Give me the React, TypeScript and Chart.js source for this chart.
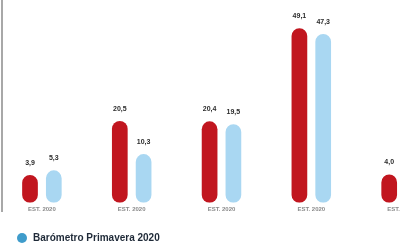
import { useEffect, useRef } from "react";
import { Chart, registerables } from "chart.js";

Chart.register(...registerables);

const categories = ["EST. 2020", "EST. 2020", "EST. 2020", "EST. 2020", "EST. 2020"];
const previousValues = [3.9, 20.5, 20.4, 49.1, 4.0];
const springValues = [5.3, 10.3, 19.5, 47.3, null];
const seriesNames = ["Barómetro anterior", "Barómetro Primavera 2020"];
const seriesColors = ["#c1161f", "#a9d7f2"];
const legendDot = "#3f9ccb";

const SHIFT = 3;

const valueLabels = {
  id: "valueLabels",
  afterDatasetsDraw(chart: any) {
    const ctx = chart.ctx;
    ctx.save();
    ctx.font = "bold 7px 'Liberation Sans', Arial, sans-serif";
    ctx.fillStyle = "#2b2b2b";
    ctx.textAlign = "center";
    ctx.textBaseline = "middle";
    chart.data.datasets.forEach((ds: any, i: number) => {
      const meta = chart.getDatasetMeta(i);
      meta.data.forEach((el: any, j: number) => {
        const v = ds.data[j];
        if (v == null) return;
        ctx.fillText(v.toFixed(1).replace(".", ","), el.x, el.y - 12);
      });
    });
    ctx.restore();
  },
};

const bottomLegend = {
  id: "bottomLegend",
  afterDraw(chart: any) {
    const ctx = chart.ctx;
    ctx.save();
    ctx.fillStyle = legendDot;
    ctx.beginPath();
    ctx.arc(22 + SHIFT, 238, 5, 0, Math.PI * 2);
    ctx.fill();
    ctx.font = "bold 10px 'Liberation Sans', Arial, sans-serif";
    ctx.fillStyle = "#1f2a38";
    ctx.textAlign = "left";
    ctx.textBaseline = "middle";
    ctx.fillText(chart.data.datasets[1].label, 33 + SHIFT, 238.5);
    ctx.restore();
  },
};

export default function App() {
  const ref = useRef<HTMLCanvasElement>(null);
  useEffect(() => {
    document.body.style.margin = "0";
    const chart = new Chart(ref.current!, {
      type: "bar",
      data: {
        labels: categories,
        datasets: [
          {
            label: seriesNames[0],
            data: previousValues,
            backgroundColor: seriesColors[0],
            borderRadius: 8,
            borderSkipped: false,
            base: -4.7,
          } as any,
          {
            label: seriesNames[1],
            data: springValues,
            backgroundColor: seriesColors[1],
            borderRadius: 8,
            borderSkipped: false,
            base: -4.7,
          } as any,
        ],
      },
      options: {
        responsive: false,
        animation: false,
        layout: { padding: { top: 10, bottom: 32, left: 0, right: 0 } },
        datasets: { bar: { categoryPercentage: 0.53, barPercentage: 0.66 } } as any,
        scales: {
          x: {
            grid: { display: false, drawTicks: false },
            border: { display: false },
            ticks: {
              padding: 3,
              color: "#8a8a8a",
              font: { size: 6, family: "'Liberation Sans', Arial, sans-serif", weight: "bold" },
            },
          },
          y: { display: false, min: -4.7, max: 54.7 },
        },
        plugins: { legend: { display: false }, tooltip: { enabled: false } },
      },
      plugins: [valueLabels, bottomLegend],
    });
    return () => chart.destroy();
  }, []);
  return (
    <div style={{ position: "fixed", left: 0, top: 0, width: 401, height: 248, overflow: "hidden", background: "#fff" }}>
      <canvas ref={ref} width={449} height={248} style={{ position: "absolute", left: -SHIFT, top: 0 }} />
      <div style={{ position: "absolute", left: 1, top: 0, width: 2, height: 212, background: "#a8a8a8" }} />
    </div>
  );
}
